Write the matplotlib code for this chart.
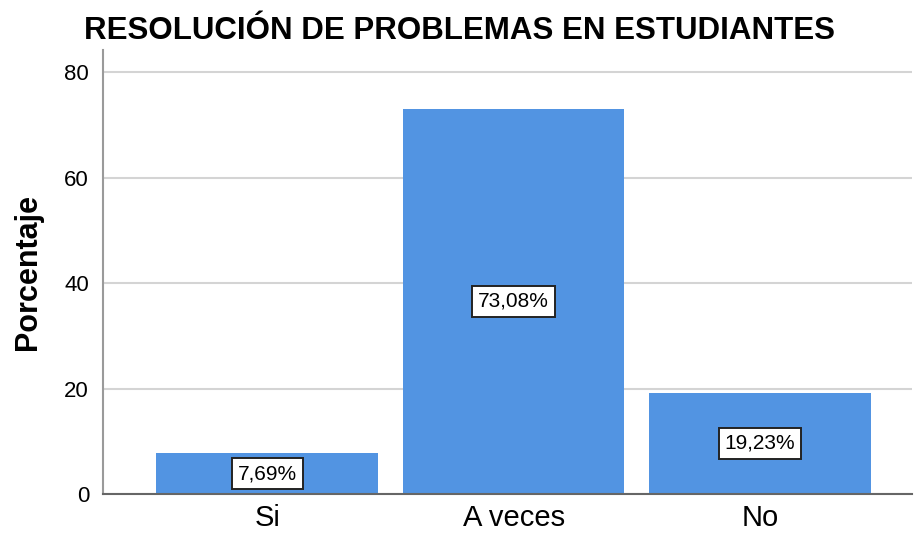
import numpy as np
import matplotlib.pyplot as plt

plt.rcParams['font.family'] = ['Liberation Sans', 'DejaVu Sans']

# Datos
categorias = ["Si", "A veces", "No"]
porcentajes = [7.69, 73.08, 19.23]
etiquetas = ["7,69%", "73,08%", "19,23%"]

fig = plt.figure(figsize=(9.16, 5.38), dpi=100)
ax = fig.add_axes([0.1124, 0.0818, 0.8832, 0.8252])

x = np.arange(len(categorias))
ax.bar(x, porcentajes, width=0.9, color="#5294e2", zorder=2)

for xi, v, t in zip(x, porcentajes, etiquetas):
    ax.text(xi, v / 2, t, ha="center", va="center", fontsize=15, zorder=3,
            bbox=dict(boxstyle="square,pad=0.28", fc="white", ec="#222222", lw=1.4))

ax.set_xlim(-0.667, 2.617)
ax.set_ylim(0, 84.2)
ax.set_yticks([0, 20, 40, 60, 80])
ax.set_xticks(x)
ax.set_xticklabels(categorias, fontsize=21)
ax.tick_params(axis="y", labelsize=16, length=0, pad=10)
ax.tick_params(axis="x", length=0, pad=7)
ax.yaxis.grid(True, color="#d4d4d4", lw=1.5, zorder=0)
ax.set_axisbelow(True)

for s in ("top", "right"):
    ax.spines[s].set_visible(False)
ax.spines["left"].set_color("#9a9a9a")
ax.spines["left"].set_linewidth(1.5)
ax.spines["bottom"].set_color("#666666")
ax.spines["bottom"].set_linewidth(1.5)

ax.set_ylabel("Porcentaje", fontsize=22, fontweight="bold", labelpad=15)
fig.text(0.502, 0.942, "RESOLUCIÓN DE PROBLEMAS EN ESTUDIANTES", ha="center", va="center",
         fontsize=22.5, fontweight="bold")

fig.savefig("out.png", dpi=100)
